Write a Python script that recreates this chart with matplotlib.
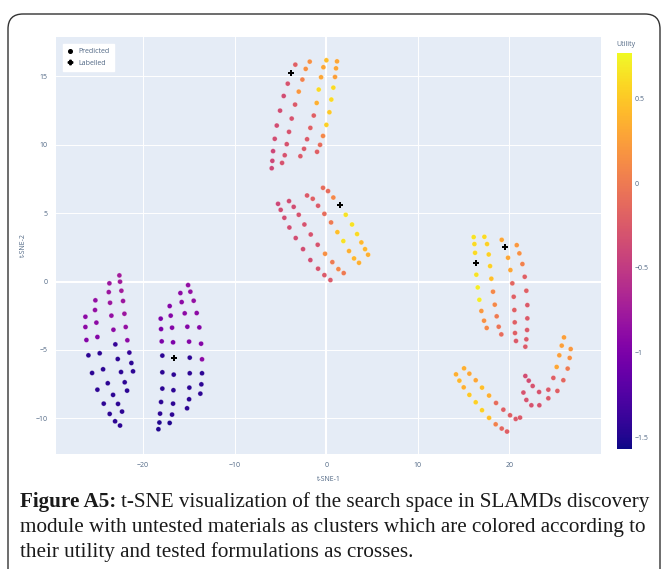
import numpy as np
import matplotlib.pyplot as plt
from matplotlib.lines import Line2D
from matplotlib.patches import FancyBboxPatch

# upper cluster (t-SNE-1, t-SNE-2, utility)
top_x = [-3.37, -4.20, -4.64, -5.04, -5.40, -5.62, -5.80, -5.88, -5.95,
         -1.80, -2.24, -2.60, -3.00, -3.40, -3.77, -4.06, -4.31, -4.53, -4.82,
         0.02, -0.31, -0.56, -0.82, -1.04, -1.36, -1.73, -2.09, -2.42, -2.82,
         1.18, 1.07, 0.96, 0.78, 0.56, 0.35, 0.02, -0.35, -0.67, -1.00]
top_y = [15.85, 14.46, 13.56, 12.49, 11.40, 10.43, 9.53, 8.82, 8.28,
         16.07, 15.54, 14.76, 13.88, 12.93, 11.91, 10.94, 10.04, 9.23, 8.67,
         16.17, 15.66, 14.93, 14.03, 13.05, 12.13, 11.23, 10.40, 9.70, 9.16,
         16.09, 15.58, 14.95, 14.17, 13.30, 12.37, 11.45, 10.64, 9.99, 9.48]
top_u = [-0.2, -0.3, -0.35, -0.35, -0.35, -0.35, -0.4, -0.4, -0.4,
         0.15, 0.15, 0.05, 0.2, -0.25, -0.3, -0.3, -0.3, -0.3, -0.3,
         0.45, 0.3, 0.3, 0.6, 0.35, -0.2, -0.2, -0.25, -0.25, -0.25,
         0.3, 0.3, 0.25, 0.6, 0.6, 0.5, 0.55, 0.1, -0.1, -0.2]

# middle cluster
mid_x = [-5.26, -4.97, -4.57, -4.02, -3.33, -2.53, -1.73, -0.89, -0.20, 0.46,
         -4.06, -3.55, -3.00, -2.38, -1.69, -0.93, -0.13, 0.67, 1.33, 1.91,
         -2.09, -1.47, -0.89, -0.20, 0.53, 1.22, 1.87, 2.49, 3.04, 3.58,
         -0.35, 0.20, 0.78, 2.13, 2.82, 3.37, 3.84, 4.24, 4.57]
mid_y = [5.68, 5.24, 4.66, 3.95, 3.18, 2.37, 1.57, 0.94, 0.47, 0.11,
         5.88, 5.46, 4.88, 4.17, 3.44, 2.69, 2.03, 1.42, 0.91, 0.62,
         6.29, 6.05, 5.54, 4.95, 4.32, 3.61, 2.96, 2.23, 1.69, 1.37,
         6.85, 6.61, 6.14, 4.88, 4.17, 3.47, 2.86, 2.37, 1.96]
mid_u = [-0.4, -0.35, -0.35, -0.35, -0.35, -0.35, -0.35, -0.3, -0.25, -0.25,
         -0.35, -0.35, -0.3, -0.3, -0.3, -0.3, 0.15, 0.0, 0.1, 0.0,
         -0.25, -0.2, -0.25, -0.1, 0.0, 0.45, 0.65, 0.35, 0.4, 0.35,
         -0.1, -0.1, 0.1, 0.65, 0.65, 0.6, 0.4, 0.4, 0.35]

# lower left cluster
ll_x = [-22.58, -23.67, -22.51, -23.74, -22.36, -25.20, -23.60, -22.18, -25.24, -23.45,
        -22.03, -26.29, -25.09, -21.89, -26.29, -23.23, -26.18, -24.98, -21.71,
        -23.02, -25.96, -24.73, -21.49, -22.76, -21.27, -25.56, -24.36, -22.40, -21.09,
        -23.85, -22.00, -24.98, -21.74, -23.27, -24.29, -22.73, -23.64, -22.29, -23.05, -22.51]
ll_y = [0.45, -0.13, -0.01, -0.77, -0.67, -1.37, -1.55, -1.42, -2.08, -2.49,
        -2.35, -2.57, -3.00, -3.32, -3.32, -3.52, -4.27, -4.05, -4.29,
        -4.59, -5.39, -5.24, -5.19, -5.66, -5.95, -6.68, -6.41, -6.61, -6.56,
        -7.43, -7.36, -7.90, -7.97, -8.28, -8.92, -8.94, -9.67, -9.50, -10.21, -10.52]
ll_u = [-0.75, -0.8, -0.75, -0.8, -0.75, -0.85, -0.8, -0.8, -0.85, -0.85,
        -0.8, -0.9, -0.9, -0.85, -0.9, -0.9, -0.95, -0.95, -0.9,
        -1.4, -1.45, -1.45, -1.4, -1.45, -1.45, -1.45, -1.45, -1.45, -1.45,
        -1.45, -1.45, -1.45, -1.45, -1.45, -1.45, -1.45, -1.45, -1.45, -1.45, -1.45]

# lower middle cluster
lm_x = [-15.08, -15.92, -14.83, -15.78, -14.47, -17.09, -15.45, -14.14, -16.98, -18.07,
        -15.16, -13.85, -16.83, -18.03, -17.96, -16.72, -14.97, -13.66, -13.56,
        -17.89, -14.90, -17.89, -16.65, -14.90, -13.56, -17.89, -16.68, -14.94, -13.63,
        -13.74, -18.03, -16.72, -14.97, -15.19, -18.14, -16.83, -18.21, -17.09, -18.32]
lm_y = [-0.26, -0.84, -0.74, -1.50, -1.40, -1.79, -2.32, -2.30, -2.49, -2.71,
        -3.30, -3.35, -3.37, -3.47, -4.37, -4.44, -4.39, -4.54, -5.68,
        -5.41, -5.56, -6.63, -6.80, -6.70, -6.70, -7.82, -7.94, -7.75, -7.51,
        -8.19, -8.80, -8.92, -8.60, -9.26, -9.65, -9.72, -10.30, -10.33, -10.79]
lm_u = [-0.85, -0.9, -0.85, -0.9, -0.85, -0.95, -0.9, -0.9, -0.95, -1.0,
        -0.95, -0.95, -0.95, -1.0, -1.0, -1.0, -0.95, -0.95, -0.9,
        -1.45, -1.45, -1.45, -1.45, -1.45, -1.45, -1.45, -1.45, -1.45, -1.45,
        -1.45, -1.45, -1.45, -1.45, -1.45, -1.45, -1.45, -1.5, -1.5, -1.5]

# right cluster, upper part
ru_x = [16.10, 16.18, 16.25, 16.39, 16.54, 16.72, 16.94, 17.23, 17.52,
        17.27, 17.56, 17.74, 17.89, 18.03, 18.21, 18.40, 18.61, 18.83, 19.12,
        19.16, 19.85, 20.11, 20.32, 20.47, 20.54, 20.58, 20.61, 20.72,
        20.80, 21.09, 21.42, 21.67, 21.85, 21.96, 21.96, 21.93, 21.85, 21.74]
ru_y = [3.25, 2.74, 2.10, 0.50, -0.43, -1.33, -2.15, -2.86, -3.39,
        3.27, 2.74, 1.98, 1.13, 0.21, -0.74, -1.69, -2.54, -3.30, -3.86,
        3.05, 1.74, 0.84, -0.13, -1.11, -2.08, -2.98, -3.76, -4.34,
        2.66, 2.06, 1.28, 0.35, -0.67, -1.72, -2.69, -3.54, -4.22, -4.76]
ru_u = [0.65, 0.6, 0.6, 0.65, 0.7, 0.7, 0.2, 0.15, 0.1,
        0.6, 0.55, 0.55, 0.55, 0.45, 0.1, 0.1, 0.0, -0.05, -0.1,
        0.3, 0.3, 0.3, -0.15, -0.2, -0.2, -0.2, -0.2, -0.25,
        0.2, 0.15, 0.05, -0.2, -0.2, -0.25, -0.25, -0.25, -0.25, -0.25]

# right cluster, lower hook
rl_x = [14.17, 14.54, 15.01, 15.63, 16.32, 17.01, 17.78, 18.50, 19.16, 19.74,
        15.05, 15.63, 16.32, 17.01, 17.78, 18.54, 19.34, 20.07, 20.69, 21.16,
        25.96, 26.69, 25.71, 26.58, 25.45, 26.36, 25.16, 25.89, 24.80, 25.24,
        24.25, 24.25, 23.24, 23.27, 22.54, 22.40, 22.11, 21.85, 21.74, 21.53]
rl_y = [-6.78, -7.24, -7.73, -8.28, -8.82, -9.40, -9.96, -10.43, -10.74, -10.96,
        -6.34, -6.73, -7.21, -7.75, -8.33, -8.87, -9.36, -9.77, -10.04, -9.94,
        -4.08, -4.93, -4.68, -5.58, -5.39, -6.36, -6.24, -7.21, -7.04, -7.99,
        -7.90, -8.53, -8.07, -9.04, -7.63, -9.04, -7.24, -8.65, -6.90, -8.11]
rl_u = [0.35, 0.4, 0.35, 0.5, 0.55, 0.55, 0.45, 0.05, -0.15, -0.2,
        0.35, 0.3, 0.3, 0.45, 0.35, -0.1, -0.2, -0.2, -0.25, -0.25,
        0.25, 0.2, 0.25, 0.15, 0.25, 0.0, 0.3, -0.15, -0.2, -0.2,
        -0.25, -0.25, -0.3, -0.3, -0.3, -0.3, -0.35, -0.3, -0.35, -0.3]

# tested formulations
lab_x = [-3.80, 1.51, -16.65, 16.32, 19.52]
lab_y = [15.24, 5.56, -5.61, 1.33, 2.49]

pred_x = top_x + mid_x + ll_x + lm_x + ru_x + rl_x
pred_y = top_y + mid_y + ll_y + lm_y + ru_y + rl_y
pred_u = top_u + mid_u + ll_u + lm_u + ru_u + rl_u

plt.rcParams['font.family'] = ['Open Sans', 'DejaVu Sans']
tick_col = '#506784'

fig = plt.figure(figsize=(6.62, 5.69), dpi=100)

# rounded frame around figure + caption
frame = FancyBboxPatch((0.08, -0.3), 6.52, 5.85, boxstyle='round,pad=0,rounding_size=0.15',
                       transform=fig.dpi_scale_trans, facecolor='none', edgecolor='#333333',
                       linewidth=1.0, clip_on=False)
fig.patches.append(frame)

ax = fig.add_axes([56 / 662, 1 - 454 / 569, (601 - 56) / 662, (454 - 37) / 569])
ax.set_facecolor('#E5ECF6')
ax.set_xlim(-29.5, 30.0)
ax.set_ylim(-12.6, 17.87)
ax.set_xticks([-20, -10, 0, 10, 20])
ax.set_yticks([-10, -5, 0, 5, 10, 15])
ax.grid(color='white', linewidth=0.7)
ax.axvline(0, color='white', linewidth=1.5, zorder=1)
ax.axhline(0, color='white', linewidth=1.5, zorder=1)
ax.set_axisbelow(True)
for s in ax.spines.values():
    s.set_visible(False)
ax.tick_params(length=0, labelsize=5, labelcolor=tick_col, pad=6)
ax.set_xlabel('t-SNE-1', fontsize=5, color=tick_col, labelpad=5)
ax.set_ylabel('t-SNE-2', fontsize=5, color=tick_col, labelpad=6)

sc = ax.scatter(pred_x, pred_y, c=pred_u, cmap='plasma', vmin=-1.57, vmax=0.77,
                s=13, edgecolors=(1, 1, 1, 0.5), linewidths=0.4, zorder=3)
ax.scatter(lab_x, lab_y, marker='P', color='black', s=15, linewidths=0, zorder=4)

handles = [Line2D([], [], marker='o', color='black', linestyle='none', markersize=2.6),
           Line2D([], [], marker='P', color='black', linestyle='none', markersize=3.2)]
leg = ax.legend(handles, ['Predicted', 'Labelled'], loc='upper left', fontsize=5,
                bbox_to_anchor=(0.006, 0.992), frameon=True, fancybox=False,
                borderpad=0.6, handlelength=1.0, handletextpad=0.7, labelspacing=0.7)
leg.get_frame().set_facecolor('white')
leg.get_frame().set_edgecolor('white')
leg.get_frame().set_alpha(1)
for t in leg.get_texts():
    t.set_color(tick_col)

# colour bar
cax = fig.add_axes([616.5 / 662, 1 - 449 / 569, 15.5 / 662, (449 - 53) / 569])
cb = fig.colorbar(sc, cax=cax, ticks=[-1.5, -1, -0.5, 0, 0.5])
cb.outline.set_visible(False)
cb.ax.set_yticklabels(['\u22121.5', '\u22121', '\u22120.5', '0', '0.5'])
cb.ax.tick_params(length=0, labelsize=5, labelcolor=tick_col, pad=2)
cax.text(0.0, 1.012, 'Utility', transform=cax.transAxes, fontsize=5, color=tick_col,
         ha='left', va='bottom')

# caption
cap_font = ['Liberation Serif', 'DejaVu Serif']
cap_size = 15.2
fig.canvas.draw()
r = fig.canvas.get_renderer()
t0 = fig.text(20 / 662, 1 - 507 / 569, 'Figure A5:', fontsize=cap_size, fontweight='bold',
              family=cap_font, va='baseline', ha='left', color='#1a1a1a')
bb = t0.get_window_extent(renderer=r)
fig.text((bb.x1 + 5) / fig.bbox.width, 1 - 507 / 569,
         't-SNE visualization of the search space in SLAMDs discovery',
         fontsize=cap_size, family=cap_font, va='baseline', ha='left', color='#1a1a1a')
fig.text(20 / 662, 1 - 532 / 569,
         'module with untested materials as clusters which are colored according to',
         fontsize=cap_size, family=cap_font, va='baseline', ha='left', color='#1a1a1a')
fig.text(20 / 662, 1 - 557 / 569, 'their utility and tested formulations as crosses.',
         fontsize=cap_size, family=cap_font, va='baseline', ha='left', color='#1a1a1a')

fig.savefig('out.png', dpi=100)
